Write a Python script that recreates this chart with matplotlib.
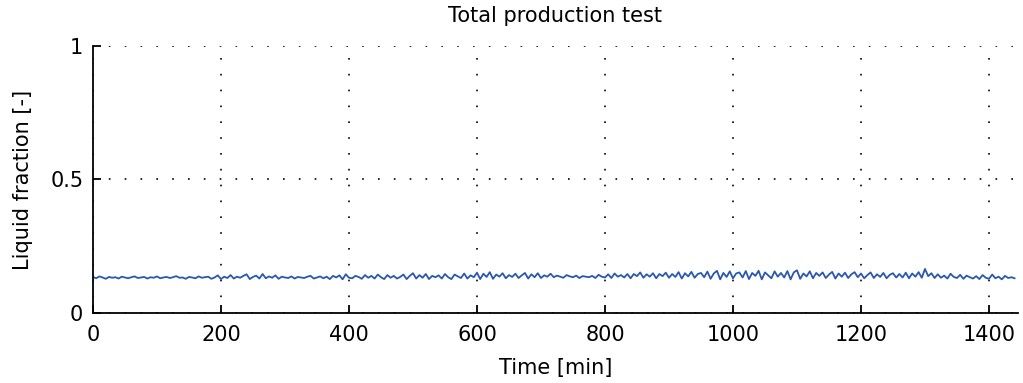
import matplotlib
matplotlib.use("Agg")
import matplotlib.pyplot as plt
import numpy as np

# Liquid fraction sampled every 5 minutes over one day
liquid_fraction = [
    0.135, 0.130, 0.137, 0.133, 0.128, 0.135, 0.132, 0.134, 0.129, 0.136, 0.133, 0.130,
    0.134, 0.137, 0.131, 0.133, 0.135, 0.129, 0.134, 0.132, 0.137, 0.130, 0.133, 0.135,
    0.131, 0.134, 0.138, 0.132, 0.133, 0.128, 0.135, 0.133, 0.130, 0.137, 0.132, 0.134,
    0.136, 0.128, 0.133, 0.141, 0.127, 0.136, 0.131, 0.142, 0.129, 0.136, 0.132, 0.139,
    0.145, 0.127, 0.135, 0.140, 0.129, 0.146, 0.130, 0.137, 0.132, 0.141, 0.128, 0.136,
    0.133, 0.131, 0.137, 0.129, 0.135, 0.133, 0.131, 0.136, 0.139, 0.129, 0.133, 0.137,
    0.130, 0.136, 0.127, 0.139, 0.133, 0.141, 0.126, 0.145, 0.132, 0.130, 0.139, 0.135,
    0.128, 0.142, 0.132, 0.139, 0.129, 0.144, 0.134, 0.127, 0.142, 0.132, 0.139, 0.129,
    0.135, 0.144, 0.127, 0.139, 0.149, 0.129, 0.142, 0.132, 0.146, 0.127, 0.139, 0.134,
    0.141, 0.129, 0.146, 0.134, 0.127, 0.144, 0.137, 0.131, 0.148, 0.129, 0.141, 0.134,
    0.151, 0.127, 0.147, 0.135, 0.153, 0.128, 0.144, 0.136, 0.149, 0.130, 0.142, 0.135,
    0.147, 0.131, 0.141, 0.150, 0.129, 0.145, 0.134, 0.149, 0.131, 0.141, 0.136, 0.147,
    0.134, 0.140, 0.136, 0.132, 0.142, 0.137, 0.134, 0.140, 0.131, 0.138, 0.136, 0.134,
    0.139, 0.131, 0.143, 0.136, 0.133, 0.145, 0.131, 0.148, 0.136, 0.142, 0.133, 0.146,
    0.130, 0.146, 0.138, 0.152, 0.132, 0.145, 0.136, 0.149, 0.130, 0.146, 0.138, 0.151,
    0.132, 0.146, 0.135, 0.153, 0.129, 0.149, 0.137, 0.154, 0.132, 0.146, 0.150, 0.134,
    0.155, 0.128, 0.148, 0.158, 0.126, 0.150, 0.135, 0.156, 0.130, 0.148, 0.152, 0.133,
    0.157, 0.127, 0.150, 0.139, 0.158, 0.126, 0.152, 0.141, 0.130, 0.156, 0.136, 0.150,
    0.133, 0.157, 0.126, 0.152, 0.160, 0.128, 0.148, 0.137, 0.156, 0.130, 0.150, 0.139,
    0.152, 0.131, 0.144, 0.154, 0.129, 0.148, 0.136, 0.151, 0.131, 0.145, 0.153, 0.134,
    0.148, 0.130, 0.142, 0.152, 0.131, 0.145, 0.135, 0.150, 0.130, 0.143, 0.149, 0.133,
    0.146, 0.133, 0.151, 0.130, 0.148, 0.136, 0.153, 0.132, 0.165, 0.138, 0.149, 0.131,
    0.145, 0.132, 0.140, 0.129, 0.147, 0.135, 0.131, 0.143, 0.128, 0.140, 0.134, 0.129,
    0.138, 0.127, 0.142, 0.132, 0.128, 0.144, 0.130, 0.136, 0.126, 0.139, 0.131, 0.134,
    0.130,
]
t_min = np.arange(len(liquid_fraction)) * 5

x_ticks = [0, 200, 400, 600, 800, 1000, 1200, 1400]
y_ticks = [0, 0.5, 1]
y_tick_labels = ["0", "0.5", "1"]

plt.rcParams["font.family"] = "DejaVu Sans"
plt.rcParams["font.size"] = 15

fig = plt.figure(figsize=(10.23, 3.83), dpi=100)
ax = fig.add_axes([0.0909, 0.1828, 0.904, 0.6971])

ax.plot(t_min, liquid_fraction, color="#2a58ad", linewidth=1.3)

ax.set_xlim(0, 1445)
ax.set_ylim(0, 1)
ax.set_xticks(x_ticks)
ax.set_yticks(y_ticks)
ax.set_yticklabels(y_tick_labels)

# MATLAB-like look: sparse dotted grid, inward ticks, no top/right box
ax.grid(True, color="black", linestyle=(0, (1, 8.5)), linewidth=1.2)
ax.spines["top"].set_visible(False)
ax.spines["right"].set_visible(False)
ax.spines["left"].set_linewidth(1.3)
ax.spines["bottom"].set_linewidth(1.3)
ax.tick_params(direction="in", length=6, width=1.3)
ax.tick_params(axis="x", pad=9)
ax.tick_params(axis="y", pad=7)

ax.set_title("Total production test", fontsize=15, pad=17)
ax.set_xlabel("Time [min]", labelpad=9)
ax.set_ylabel("Liquid fraction [-]", labelpad=12)

fig.savefig("out.png", dpi=100)
